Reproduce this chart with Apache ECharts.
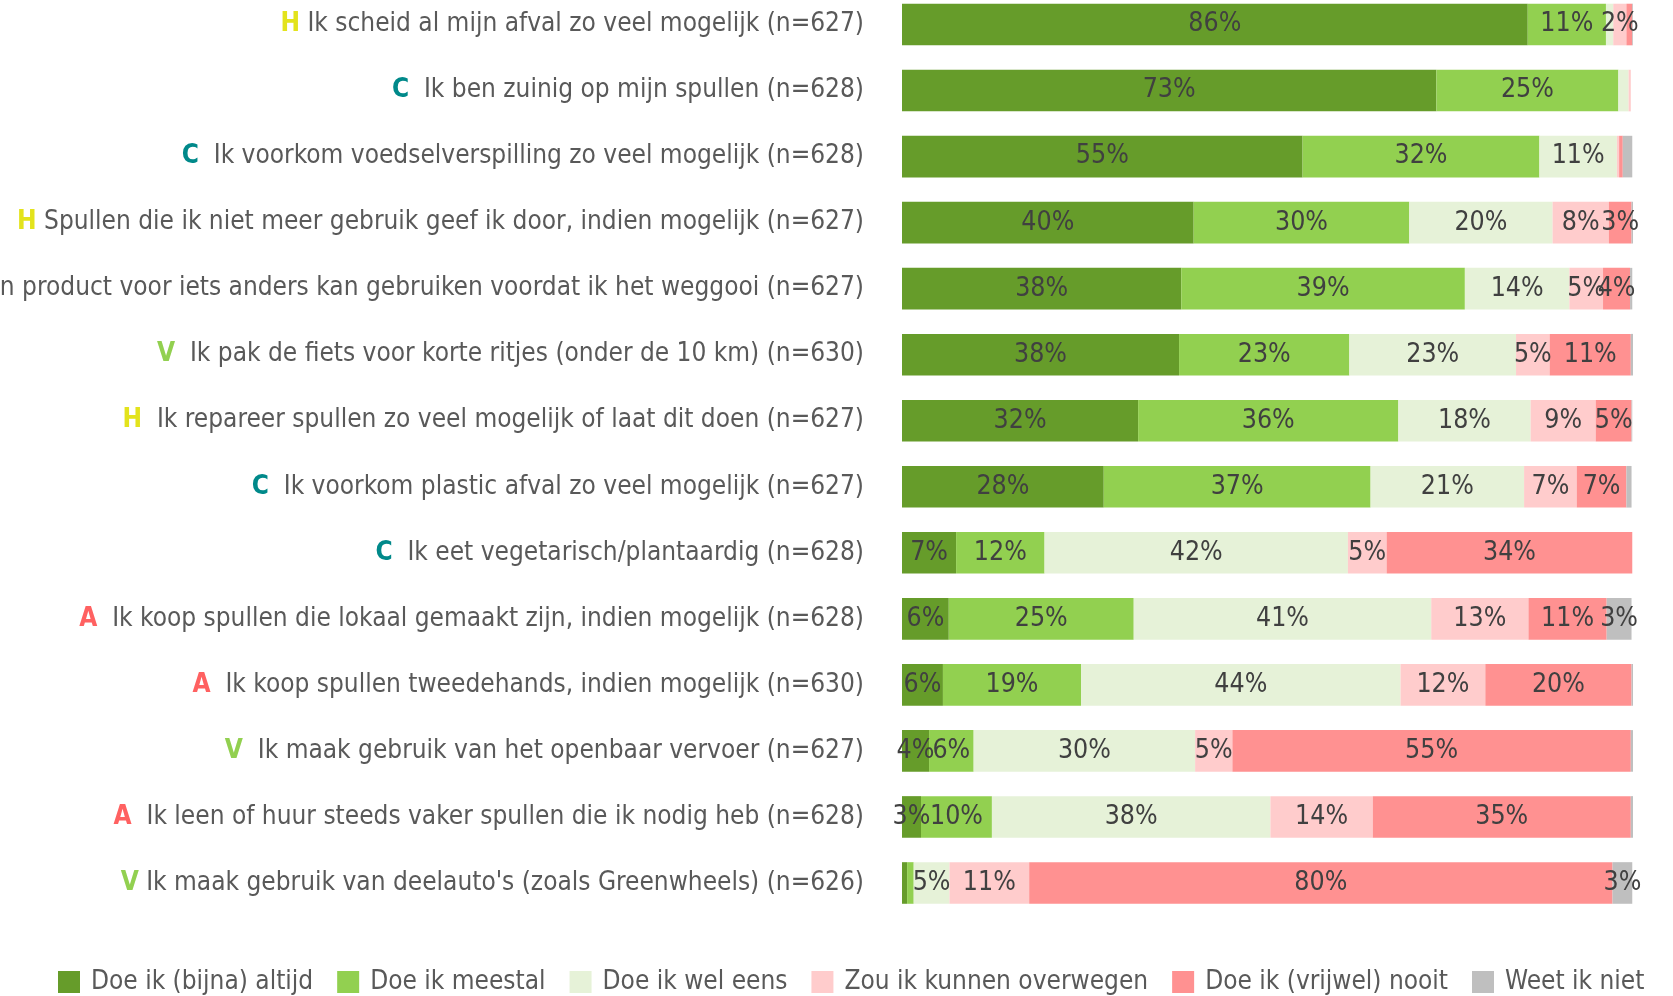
<!DOCTYPE html>
<html>
<head>
<meta charset="utf-8">
<script src="https://cdn.jsdelivr.net/npm/echarts@6/dist/echarts.min.js"></script>
<style>
html,body{margin:0;padding:0;background:#fff;}
#c{width:1673px;height:996px;}
</style>
</head>
<body>
<div id="c"></div>
<script>
const categories = [
  "Ik scheid al mijn afval zo veel mogelijk (n=627)",
  "Ik ben zuinig op mijn spullen (n=628)",
  "Ik voorkom voedselverspilling zo veel mogelijk (n=628)",
  "Spullen die ik niet meer gebruik geef ik door, indien mogelijk (n=627)",
  "Ik kijk eerst of ik een product voor iets anders kan gebruiken voordat ik het weggooi (n=627)",
  "Ik pak de fiets voor korte ritjes (onder de 10 km) (n=630)",
  "Ik repareer spullen zo veel mogelijk of laat dit doen (n=627)",
  "Ik voorkom plastic afval zo veel mogelijk (n=627)",
  "Ik eet vegetarisch/plantaardig (n=628)",
  "Ik koop spullen die lokaal gemaakt zijn, indien mogelijk (n=628)",
  "Ik koop spullen tweedehands, indien mogelijk (n=630)",
  "Ik maak gebruik van het openbaar vervoer (n=627)",
  "Ik leen of huur steeds vaker spullen die ik nodig heb (n=628)",
  "Ik maak gebruik van deelauto's (zoals Greenwheels) (n=626)"
];
const prefixes = ["H","C","C","H","H","V","H","C","C","A","A","V","A","V"];
const prefixGaps = [" ","  ","  "," ","  ","  ","  ","  ","  ","  ","  ","  ","  "," "];

const seriesNames = ["Doe ik (bijna) altijd","Doe ik meestal","Doe ik wel eens","Zou ik kunnen overwegen","Doe ik (vrijwel) nooit","Weet ik niet"];

const altijd    = [85.6, 73.1, 54.8, 39.9, 38.2, 37.9, 32.3, 27.6,  7.4,  6.4,  5.6,  3.7,  2.6,  0.7];
const meestal   = [10.7, 24.9, 32.4, 29.5, 38.8, 23.3, 35.6, 36.5, 12.1, 25.3, 18.9,  6.1,  9.7,  0.9];
const welEens   = [ 1.0,  1.4, 10.6, 19.6, 14.3, 22.8, 18.1, 21.0, 41.5, 40.7, 43.7, 30.3, 38.1,  4.9];
const overwegen = [ 1.8,  0.3,  0.3,  7.7,  4.6,  4.6,  8.9,  7.2,  5.3, 13.3, 11.6,  5.1, 14.0, 10.9];
const nooit     = [ 0.8,  0.0,  0.5,  3.1,  3.7, 11.1,  4.9,  6.8, 33.6, 10.7, 20.0, 54.5, 35.3, 79.8];
const weetNiet  = [ 0.1,  0.0,  1.3,  0.2,  0.3,  0.3,  0.1,  0.7,  0.0,  3.4,  0.3,  0.3,  0.3,  2.7];

const seriesData = [altijd, meestal, welEens, overwegen, nooit, weetNiet];
const colors = ["#669C2A","#92D050","#E6F2D8","#FFCCCC","#FF9191","#BFBFBF"];
const prefixColors = {H:"#E3E31C", C:"#00898A", V:"#92D050", A:"#FF6161"};

const FONT = "'Liberation Sans Narrow','DejaVu Sans Condensed','Liberation Sans',sans-serif";

const chart = echarts.init(document.getElementById('c'), null, {renderer:'canvas'});

const rich = {};
Object.keys(prefixColors).forEach(k => {
  rich['p'+k] = {color: prefixColors[k], fontWeight: 'bold', fontSize: 26, fontFamily: FONT};
});
rich.t = {color:'#595959', fontSize: 26, fontFamily: FONT};

chart.setOption({
  animation: false,
  color: colors,
  textStyle: {fontFamily: FONT},
  legend: {
    data: seriesNames,
    left: 53,
    width: 1615,
    top: 964,
    icon: 'rect',
    itemWidth: 22,
    itemHeight: 22,
    itemGap: 24,
    textStyle: {fontSize: 26, color: '#595959', fontFamily: FONT, padding: [0,0,0,6]}
  },
  grid: {left: 902, right: 40, top: -8.5, height: 924.5, outerBoundsMode: 'none', containLabel: false},
  xAxis: {
    type: 'value', min: 0, max: 100, show: false
  },
  yAxis: {
    type: 'category',
    data: categories,
    inverse: true,
    axisLine: {show: false},
    axisTick: {show: false},
    axisLabel: {
      margin: 38,
      formatter: (v, i) => '{p' + prefixes[i] + '|' + prefixes[i] + '}{t|' + prefixGaps[i] + v + '}',
      rich: rich
    }
  },
  series: seriesData.map((d, si) => ({
    name: seriesNames[si],
    type: 'bar',
    stack: 'total',
    barCategoryGap: '37%',
    data: d,
    itemStyle: {color: colors[si]},
    label: {
      show: true,
      position: 'inside',
      color: '#404040',
      fontSize: 26.5,
      fontFamily: FONT,
      formatter: p => Math.round(p.value) >= 2 ? Math.round(p.value) + '%' : ''
    }
  }))
});
</script>
</body>
</html>
